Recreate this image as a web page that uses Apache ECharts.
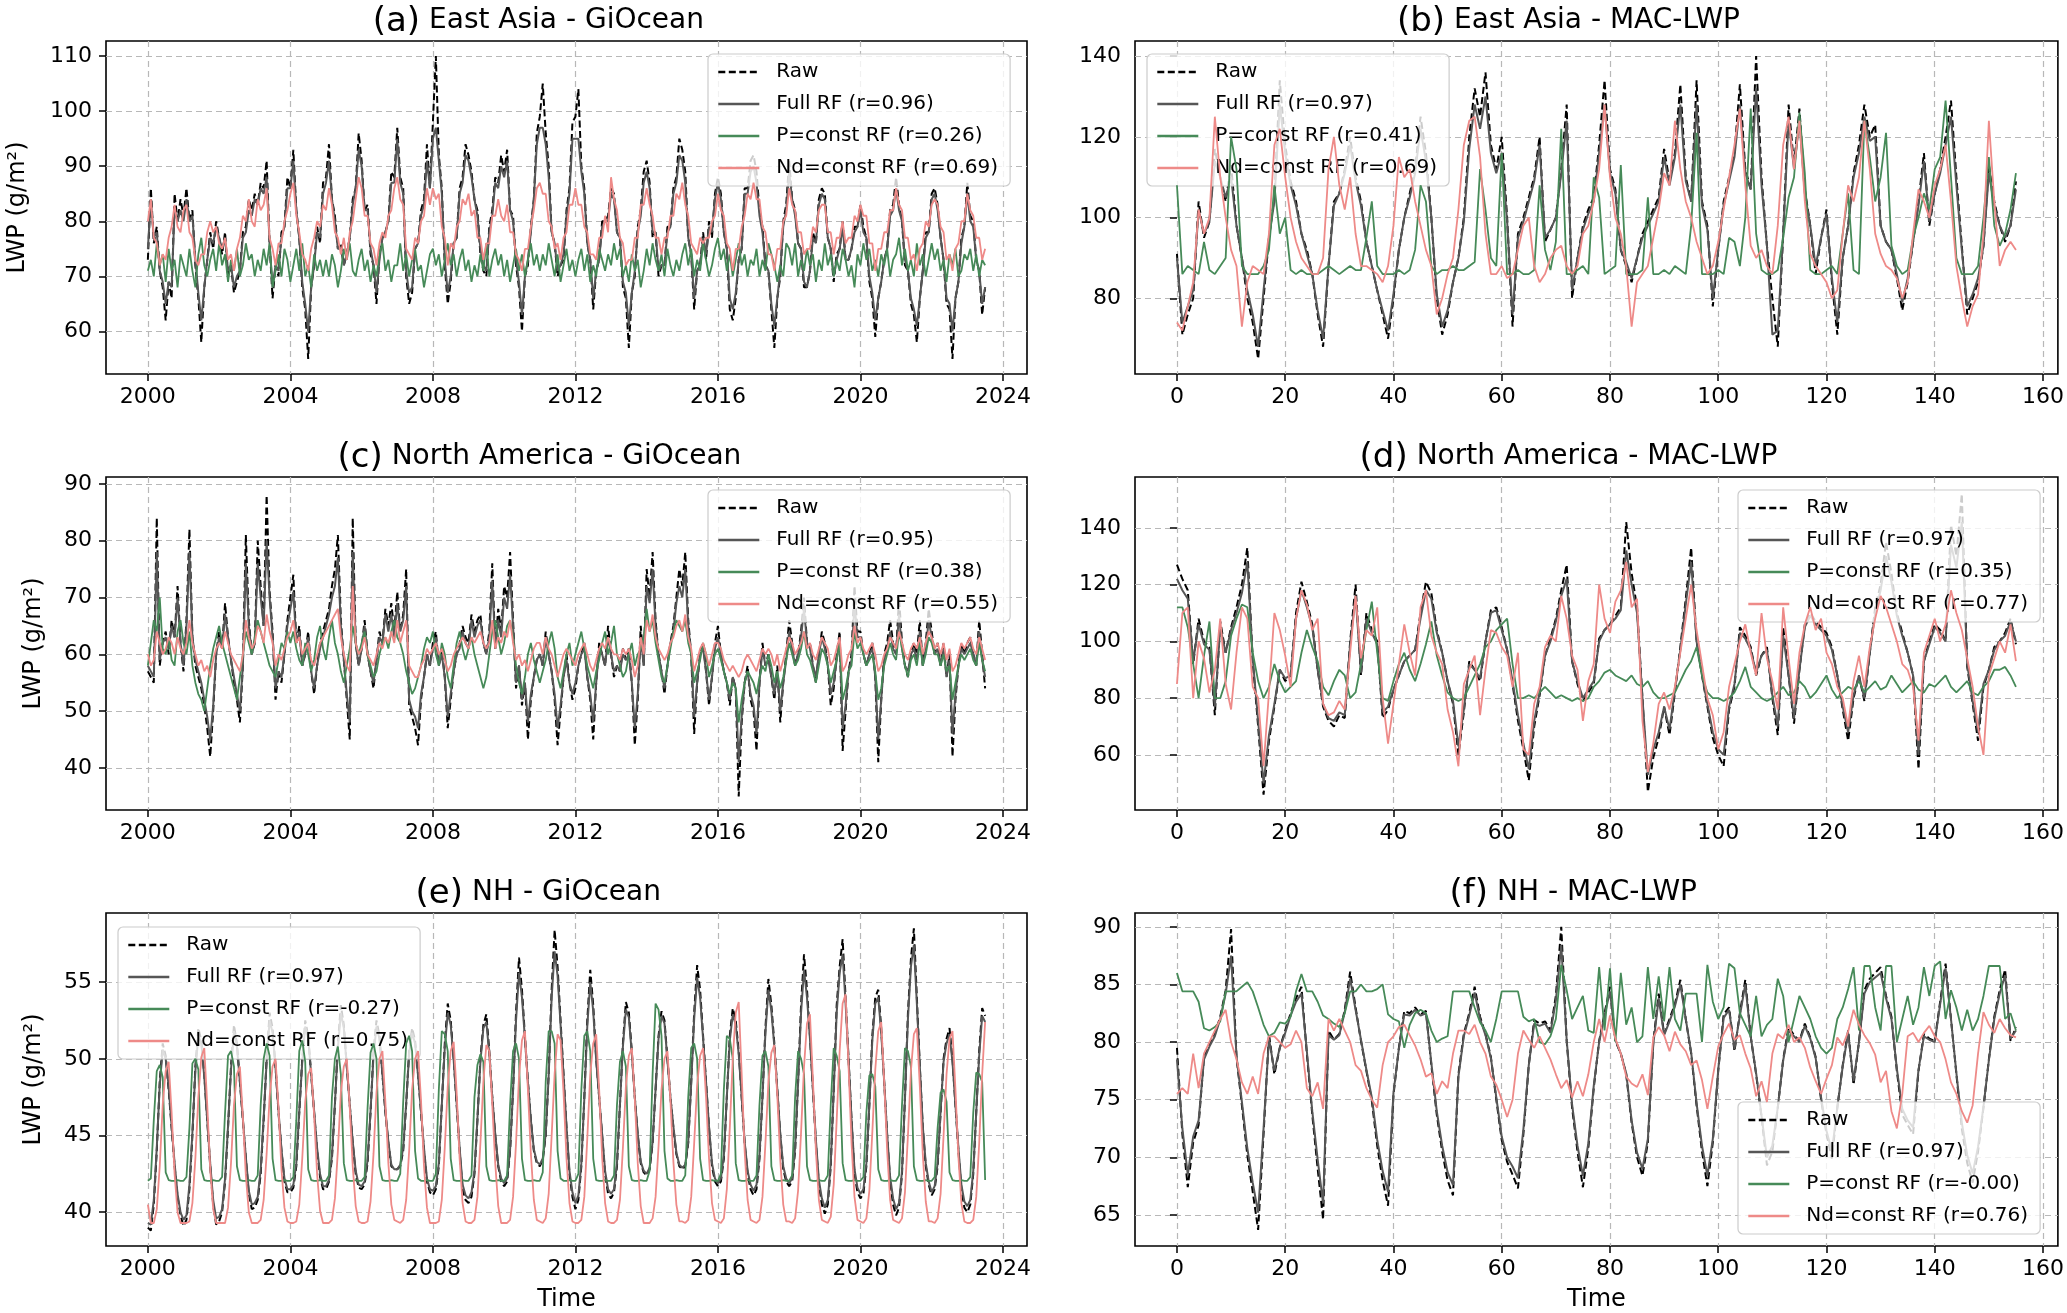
<!DOCTYPE html>
<html>
<head>
<meta charset="utf-8">
<script src="https://cdn.jsdelivr.net/npm/echarts@6/dist/echarts.min.js"></script>
<style>
html, body { margin: 0; padding: 0; background: #fff; }
#main { width: 2067px; height: 1313px; }
</style>
</head>
<body>
<div id="main"></div>
<script>
// tick labels
var yearTicks = [2000, 2004, 2008, 2012, 2016, 2020, 2024]
var indexTicks = [0, 20, 40, 60, 80, 100, 120, 140, 160]
var seriesLabels = ['Raw', 'Full RF', 'P=const RF', 'Nd=const RF']

/* (a) East Asia - GiOcean, monthly 2000-01 .. 2023-07 */
var rawA = [
73,86,76,79,71,68,62,69,66,85,80,84,
81,86,80,82,72,66,58,68,73,78,75,80,
77,74,78,70,72,67,69,71,78,79,84,82,
85,83,87,86,91,76,66,72,70,78,79,88,
86,93,82,77,68,64,55,68,72,79,76,87,
88,94,84,81,75,76,72,74,77,84,86,96,
91,82,83,74,72,65,74,77,78,80,89,88,
97,88,86,70,65,67,75,76,82,84,94,86,
98,110,92,86,72,65,69,76,77,86,88,94,
92,89,84,82,74,71,70,79,82,88,87,92,
89,93,82,81,72,68,60,70,72,79,84,96,
99,105,96,90,78,76,70,72,73,82,86,98,
99,104,90,86,76,73,64,71,73,80,80,81,
86,85,78,77,68,66,57,67,70,79,82,89,
91,87,77,78,70,72,72,79,79,86,88,95,
93,89,77,74,64,71,72,78,73,80,77,85,
88,85,78,75,64,62,66,73,75,86,86,91,
92,89,82,79,72,71,64,57,66,70,80,83,
91,84,82,76,75,68,68,71,78,76,84,86,
85,77,75,69,74,75,80,73,73,75,79,79,
83,79,77,69,66,59,66,69,73,75,82,83,
88,83,80,72,71,65,63,58,66,71,78,78,
85,86,83,77,73,65,64,55,66,69,77,79,
87,81,80,73,71,63,68]
var fullA = [
75,84,77,78,71,69,65,69,68,82,80,82,
80,84,80,81,73,67,62,68,73,77,76,79,
77,75,77,71,72,68,70,71,77,78,82,81,
84,83,86,85,88,76,68,72,71,77,79,86,
86,91,82,77,69,65,60,68,72,78,77,85,
87,91,84,80,75,75,72,74,77,83,86,93,
90,82,82,75,72,67,73,77,78,80,87,87,
95,87,85,71,67,68,75,76,81,83,91,86,
95,97,91,85,73,67,70,76,77,85,87,92,
91,88,84,81,75,72,71,78,81,87,86,90,
88,91,82,80,73,69,63,70,73,78,84,94,
97,97,94,88,78,76,71,72,74,81,85,95,
95,95,89,85,76,73,66,71,73,79,80,80,
85,84,78,77,69,67,61,67,71,78,81,87,
89,86,78,78,71,72,72,78,79,85,87,92,
91,87,77,74,66,71,72,77,74,79,78,84,
87,84,78,75,66,64,67,73,75,85,85,89,
90,87,81,78,72,71,65,61,66,71,79,82,
89,84,81,76,75,69,68,71,77,76,83,85,
84,77,75,70,73,75,79,73,73,75,78,79,
82,78,77,70,67,62,66,69,73,75,81,82,
86,82,80,73,71,66,64,61,66,71,77,78,
84,85,82,77,73,66,65,60,66,69,76,79,
85,80,79,73,71,65,68]
var pconstA = [
71,73,70,76,72,74,69,75,71,73,68,74,
72,70,75,71,68,74,77,72,70,73,75,71,
76,72,74,69,73,71,75,70,72,76,73,74,
70,73,71,75,72,76,68,71,74,70,75,73,
69,72,75,71,76,70,72,68,74,71,73,70,
73,70,74,72,68,71,75,73,76,71,70,73,
75,71,73,69,72,70,74,76,71,73,69,72,
72,76,71,74,70,73,75,71,72,68,71,74,
75,72,74,70,73,76,72,74,70,73,75,71,
73,69,72,70,74,71,76,70,73,75,72,74,
70,73,69,72,75,71,74,70,73,76,72,74,
71,74,72,76,73,70,74,69,72,75,71,73,
70,73,75,71,74,69,72,70,75,73,71,74,
72,76,73,75,70,72,69,74,71,73,68,71,
75,72,76,73,71,74,70,75,72,70,73,71,
74,76,72,75,70,73,71,76,73,70,72,75,
77,73,75,71,74,70,73,76,72,74,70,73,
72,75,70,73,71,76,74,72,69,72,70,76,
75,72,76,70,73,71,75,72,74,69,73,71,
76,72,74,70,73,71,75,73,70,72,68,74,
72,76,73,75,71,73,70,74,72,75,70,73,
74,77,72,75,71,73,70,76,72,74,70,73,
76,73,75,71,73,69,74,72,75,70,71,74,
73,75,71,74,70,73,72]
var ndconstA = [
80,84,77,76,72,74,73,77,79,83,79,78,
82,83,78,77,73,72,74,74,78,80,78,79,
76,75,77,73,74,71,75,77,81,80,84,80,
79,84,82,83,86,77,75,72,76,76,80,82,
85,87,81,78,74,73,71,75,77,80,79,83,
82,86,83,78,77,74,77,73,78,80,84,88,
86,81,81,76,75,72,76,78,77,81,82,86,
88,84,83,75,74,73,77,76,80,81,86,83,
86,84,85,79,77,72,76,75,79,80,84,83,
85,81,82,77,77,73,76,76,81,81,84,81,
80,83,78,78,74,73,71,75,75,79,82,86,
87,85,85,80,79,75,76,73,77,78,83,83,
86,83,83,79,78,74,74,73,77,77,81,78,
88,84,82,77,76,72,73,73,77,77,83,83,
86,83,81,77,77,74,77,77,81,81,85,84,
87,83,81,76,75,74,77,76,77,77,80,81,
85,82,81,76,75,71,75,75,79,81,85,84,
87,84,84,79,78,74,74,71,75,75,80,81,
86,83,82,78,78,74,75,75,79,78,82,83,
83,78,78,74,77,77,80,76,77,77,81,80,
83,81,81,76,76,71,75,75,78,78,82,82,
86,83,82,77,77,73,74,71,75,76,80,79,
83,84,83,79,78,73,74,71,75,76,80,80,
85,82,81,77,77,73,75]

/* (b) East Asia - MAC-LWP, 156 samples */
var rawB = [
91,71,76,80,104,95,99,117,110,104,113,98,
90,80,74,65,80,95,105,134,118,109,104,96,
92,86,76,68,88,104,106,112,120,110,104,94,
88,82,76,70,80,92,100,106,112,125,116,100,
80,71,76,84,90,100,120,132,125,136,118,112,
120,100,73,96,100,105,110,120,94,97,100,112,
128,80,90,98,102,105,118,134,112,107,92,88,
84,90,96,99,102,105,117,109,116,133,110,104,
134,104,98,78,92,104,110,116,133,112,107,140,
110,93,80,68,96,128,113,127,107,98,86,95,
102,84,71,90,98,111,118,128,120,123,98,94,
92,85,77,84,94,104,116,98,106,112,120,129,
110,93,76,80,84,93,113,104,98,94,98,109]
var fullB = [
90,74,78,82,102,96,99,114,110,105,110,98,
90,82,76,68,82,95,104,128,116,108,103,96,
91,86,77,70,88,103,106,111,118,109,103,94,
88,82,77,72,81,92,100,105,111,122,114,100,
81,73,77,84,90,99,117,128,122,130,116,111,
116,99,76,95,99,104,109,118,95,97,100,111,
124,82,90,97,101,104,116,128,111,106,92,89,
85,90,95,98,101,104,115,108,115,128,109,104,
128,103,97,80,92,103,109,115,128,111,107,132,
108,93,71,72,96,124,112,124,106,98,88,95,
101,85,74,90,98,110,116,125,119,120,98,94,
92,86,79,85,94,103,114,99,106,111,118,125,
108,92,78,81,85,93,111,103,98,95,98,107]
var pconstB = [
108,86,88,87,86,94,87,86,88,90,120,112,
88,86,86,86,88,92,108,96,100,87,86,87,
86,86,86,87,88,87,86,87,88,87,87,95,
104,88,86,86,86,87,86,87,92,108,104,88,
86,87,87,88,87,87,88,89,112,102,90,88,
116,86,86,87,86,86,87,108,92,87,94,122,
86,86,87,88,86,110,105,86,87,88,113,86,
86,86,87,105,86,86,87,86,88,87,86,98,
121,86,86,86,87,86,95,94,88,100,127,96,
87,86,86,87,95,105,110,126,111,87,86,86,
87,88,86,96,106,87,86,124,115,104,110,121,
93,88,86,87,95,100,106,102,112,115,129,110,
90,86,86,86,88,100,115,98,93,96,102,111]
var ndconstB = [
74,72,78,84,102,96,100,125,110,100,92,88,
73,84,88,87,86,96,118,122,110,100,94,90,
88,86,86,90,112,120,108,102,110,96,88,88,
87,86,84,88,98,115,110,112,104,98,92,88,
76,80,86,90,102,118,124,125,115,96,86,86,
88,85,86,92,98,100,88,84,86,90,92,93,
88,86,88,96,98,104,112,128,110,100,96,88,
73,84,86,88,95,102,111,108,124,112,104,100,
94,90,86,88,94,102,110,118,127,108,93,90,
92,88,86,98,118,125,112,124,104,91,88,86,
84,80,82,96,108,104,110,124,112,96,91,88,
87,85,80,84,96,107,104,100,108,112,118,104,
88,80,73,78,81,96,124,104,88,92,94,92]

/* (c) North America - GiOcean */
var rawC = [
57,56,55,84,58,62,64,60,66,63,72,62,
57,66,82,63,58,56,54,51,47,42,50,60,
64,61,69,63,59,55,52,48,58,81,66,60,
62,80,72,65,88,71,64,52,57,55,60,66,
70,74,62,65,58,60,64,57,53,58,62,64,
66,68,72,75,81,66,59,52,45,84,62,58,
61,66,60,57,54,59,64,62,68,65,69,64,
71,64,67,75,51,49,47,44,52,56,60,58,
62,64,58,61,56,47,52,57,60,62,65,63,
62,67,64,66,67,62,60,64,76,61,68,64,
72,70,78,66,54,58,51,55,45,52,56,59,
60,58,64,60,57,52,44,50,56,60,55,52,
54,58,60,62,56,52,45,55,62,60,58,65,
60,56,58,57,61,59,61,55,44,52,65,58,
75,70,78,66,60,57,53,58,62,65,70,75,
72,78,66,60,46,55,60,62,57,51,56,62,
65,60,57,55,51,56,54,35,48,55,58,52,
50,43,55,62,58,60,56,52,58,48,55,60,
66,62,58,60,64,70,62,62,58,55,60,64,
62,58,51,54,60,64,43,50,57,60,72,64,
64,60,58,60,62,56,41,52,60,62,66,62,
60,70,62,58,56,60,62,60,66,58,62,68,
64,60,62,58,62,56,60,42,52,58,62,60,
62,63,60,58,66,60,54]
var fullC = [
58,57,56,78,59,62,63,61,65,63,70,62,
58,65,78,63,59,57,55,52,49,45,51,60,
63,61,67,63,59,56,53,50,58,76,65,60,
62,76,70,65,80,70,63,54,57,56,60,65,
68,71,62,64,58,60,63,57,54,58,61,63,
65,67,70,72,77,65,59,53,48,78,62,58,
61,65,60,57,55,59,63,62,67,64,67,63,
69,64,66,72,52,50,49,47,53,56,60,58,
61,63,58,60,56,49,53,57,60,61,64,62,
61,66,63,65,66,62,60,63,73,61,66,63,
70,68,74,65,55,58,52,55,48,53,56,59,
60,58,63,60,57,53,47,51,56,59,55,53,
55,58,60,61,56,53,48,55,61,60,58,63,
60,57,58,57,60,59,60,55,47,53,63,58,
72,69,75,65,60,57,54,58,62,64,69,72,
70,75,65,60,49,55,60,61,57,52,56,61,
63,60,57,55,52,56,54,41,49,55,57,53,
51,46,55,61,58,59,56,53,57,50,55,59,
64,61,58,60,63,68,62,61,58,56,60,63,
61,58,53,55,59,63,47,51,57,59,69,63,
63,60,58,60,61,56,45,52,59,61,64,61,
60,67,61,58,57,60,61,59,64,58,61,66,
63,60,61,58,61,56,59,46,53,58,61,60,
61,62,60,58,64,59,56]
var pconstC = [
58,62,66,64,70,61,60,63,59,58,64,66,
62,60,64,58,55,53,52,50,54,58,61,63,
65,62,60,58,56,54,52,56,60,64,62,60,
63,66,64,62,60,58,57,56,59,62,61,64,
62,64,61,59,58,62,60,57,59,63,65,61,
59,63,66,62,60,57,55,58,61,65,62,60,
62,64,60,58,56,57,60,62,63,61,64,66,
63,62,60,57,55,53,54,56,58,61,63,62,
64,60,58,62,60,56,54,58,62,64,61,59,
61,63,60,58,56,54,56,60,64,66,63,60,
62,65,66,63,58,55,53,56,60,62,59,57,
55,57,59,62,64,61,56,54,57,60,62,58,
60,62,64,61,58,56,54,57,59,62,64,60,
62,65,60,58,56,57,60,62,58,60,61,63,
68,64,66,62,59,56,55,58,61,64,66,65,
64,66,62,60,55,57,59,62,60,56,58,60,
61,59,57,55,53,55,54,48,52,55,57,56,
55,53,56,58,57,60,58,55,57,54,56,59,
62,60,58,59,61,64,60,59,57,55,58,61,
60,58,55,57,59,62,52,54,57,58,64,61,
62,60,58,59,60,57,52,54,58,60,62,60,
59,64,61,58,56,59,60,58,62,58,60,63,
62,60,60,58,60,57,58,52,55,58,60,59,
60,61,59,58,62,59,57]
var ndconstC = [
60,58,59,64,62,60,61,63,62,60,63,61,
60,62,66,62,60,58,59,57,58,56,59,61,
62,61,64,62,60,59,58,57,60,66,63,61,
62,65,64,62,67,64,62,58,60,59,61,63,
64,66,62,63,60,61,62,59,58,60,62,63,
64,65,66,67,68,63,60,58,57,72,62,60,
61,63,60,59,58,60,62,61,63,62,64,62,
66,62,64,66,58,57,56,56,58,59,61,60,
61,62,60,61,59,57,58,60,61,62,63,62,
61,63,62,63,64,62,61,62,66,61,63,62,
64,63,66,62,59,60,58,59,57,59,61,62,
62,60,63,61,60,58,56,58,60,61,60,59,
58,60,61,62,60,58,57,59,61,62,61,63,
61,60,60,59,61,60,61,59,56,58,63,60,
66,64,67,63,61,60,59,60,62,63,65,66,
64,67,63,61,57,59,61,62,60,58,60,62,
62,61,59,58,57,58,57,56,57,59,60,59,
58,57,59,61,60,61,60,58,60,57,59,61,
63,62,60,61,62,64,61,62,60,59,61,63,
62,61,58,59,61,63,57,58,60,61,65,62,
63,61,60,61,62,60,57,58,60,61,63,62,
61,64,62,60,59,61,62,61,63,60,62,64,
63,61,62,60,62,59,61,57,58,60,62,61,
62,63,61,60,63,61,59]

/* (d) North America - MAC-LWP */
var rawD = [
127,122,118,92,108,100,98,74,107,96,105,112,
120,133,93,70,46,65,77,90,86,88,110,121,
114,106,90,77,72,70,74,73,100,120,88,110,
104,100,73,76,83,88,93,95,97,110,121,117,
104,96,86,78,60,75,93,90,86,100,111,112,
105,97,85,72,62,51,70,81,95,101,108,118,
127,93,85,79,82,85,101,104,106,109,112,142,
124,112,80,47,59,66,77,67,82,98,115,133,
100,88,77,66,60,56,76,84,105,102,98,88,
95,98,80,67,105,88,71,90,106,110,107,105,
103,98,88,76,65,80,88,79,96,112,120,135,
124,110,103,96,88,55,93,100,106,104,100,141,
130,152,91,78,65,84,90,98,100,103,108,99]
var fullD = [
122,118,115,93,106,99,97,77,105,96,104,110,
117,128,94,72,50,67,78,90,87,88,108,118,
112,105,90,78,73,72,75,74,99,116,89,108,
103,99,75,77,83,88,93,95,97,108,118,115,
103,96,86,79,63,76,92,90,87,100,110,111,
104,97,86,74,64,55,72,82,95,100,107,116,
122,93,86,80,83,86,100,104,106,108,111,132,
120,110,80,53,62,68,77,69,83,97,113,128,
100,88,78,68,62,60,77,85,103,101,97,89,
95,97,81,70,102,88,73,90,105,109,106,104,
102,97,88,77,68,81,88,80,96,110,118,130,
121,109,102,96,88,60,93,99,105,103,100,134,
126,142,92,79,68,85,90,97,100,102,107,100]
var pconstD = [
112,112,105,92,80,95,107,80,80,86,102,108,
113,112,96,86,80,84,92,86,82,84,86,96,
104,98,93,84,81,86,90,88,80,82,92,104,
114,96,80,79,86,92,96,90,86,92,99,107,
95,88,82,80,79,80,84,88,92,98,100,104,
106,108,92,80,80,81,80,82,84,82,80,81,
80,79,80,79,80,84,86,89,90,88,87,86,
88,85,84,86,82,80,80,81,82,86,90,93,
98,88,82,80,80,79,80,82,86,91,84,82,
80,79,80,82,84,81,82,86,84,80,82,85,
88,83,80,82,84,83,86,82,84,86,83,84,
88,85,82,84,86,83,82,85,84,86,88,84,
82,84,86,82,81,84,86,90,90,91,88,84]
var ndconstD = [
85,110,112,80,100,94,82,90,108,85,76,96,
112,108,84,80,56,82,110,104,95,84,108,118,
113,104,108,78,74,75,79,76,96,116,94,104,
102,112,80,64,78,92,106,96,88,112,118,102,
96,92,76,68,56,85,90,95,74,90,104,103,
98,95,84,96,62,60,78,84,98,102,100,116,
108,95,90,72,86,92,120,108,103,114,118,128,
112,115,72,54,64,78,82,76,84,96,108,120,
104,92,80,74,62,68,84,92,100,106,96,88,
110,94,86,76,112,94,78,96,106,112,104,108,
96,92,84,80,70,86,95,84,98,108,116,112,
106,100,92,90,84,65,96,102,108,100,106,118,
110,104,94,84,70,60,88,94,100,96,106,93]

/* (e) NH - GiOcean */
var rawE = [
39.0,38.8,40.5,44.0,48.5,51.0,50.2,48.0,45.5,43.0,41.0,39.8,
39.1,39.5,41.5,45.0,49.5,52.0,51.2,49.0,46.0,43.0,40.5,39.2,
39.4,40.0,42.0,45.5,49.5,52.2,51.0,48.5,46.0,43.5,41.2,40.2,
40.3,40.8,42.5,46.0,50.0,53.0,52.0,49.5,46.5,44.0,42.0,41.3,
41.3,41.6,43.0,46.5,50.0,52.5,51.5,49.0,46.5,44.0,42.3,41.5,
41.5,42.0,43.5,47.0,51.0,53.5,52.2,49.5,47.0,44.5,42.5,41.6,
41.5,41.8,43.2,46.5,50.5,52.5,51.5,49.0,46.5,44.5,43.0,42.8,
42.8,43.0,44.0,47.0,50.5,52.0,51.2,49.0,46.5,44.0,42.0,41.3,
41.1,41.5,43.0,47.0,51.0,53.6,52.5,50.0,47.0,44.0,41.5,40.8,
40.6,41.0,42.5,46.0,50.0,52.2,52.9,50.5,47.5,45.0,43.0,42.0,
41.7,42.0,44.0,48.0,53.0,56.6,54.5,51.5,48.5,46.0,44.0,43.2,
43.0,43.4,45.0,49.0,54.5,58.4,56.0,52.5,49.0,45.5,42.5,41.0,
40.2,40.8,43.0,47.5,52.5,55.8,53.5,50.0,47.5,45.0,42.5,41.2,
40.9,41.3,43.0,47.0,51.0,53.7,53.0,50.5,47.5,45.0,43.2,42.6,
42.4,42.8,44.5,48.0,51.5,53.1,52.5,50.0,47.5,45.5,43.8,43.0,
42.8,43.0,44.5,48.5,53.0,56.1,54.5,51.5,48.5,45.5,43.0,42.0,
41.7,42.0,43.5,47.5,51.5,53.3,52.5,50.5,47.5,44.5,42.5,41.5,
41.1,41.5,43.5,47.5,52.0,55.2,53.5,51.0,48.0,45.0,42.8,42.0,
41.7,42.0,44.0,48.5,53.5,56.8,54.5,51.5,48.0,44.5,41.8,40.5,
39.9,40.5,43.0,48.0,53.5,56.0,57.8,54.0,50.0,46.0,42.5,41.3,
40.9,41.2,43.0,47.0,51.5,54.0,54.5,52.0,48.5,45.0,42.0,40.5,
39.8,40.3,42.5,47.5,53.0,56.5,58.5,54.0,49.5,45.5,43.0,41.8,
41.1,41.5,43.0,46.5,50.0,51.3,52.0,50.0,47.0,44.0,41.5,40.3,
40.0,40.5,42.5,46.5,50.5,53.3,52.8]
var fullE = [
39.3,39.2,40.8,44.2,48.3,50.6,50.0,48.2,45.6,43.2,41.2,40.0,
39.5,39.8,41.8,45.2,49.2,51.5,51.0,48.8,46.0,43.2,40.8,39.6,
39.7,40.2,42.2,45.6,49.3,51.8,50.8,48.5,46.1,43.6,41.4,40.5,
40.6,41.0,42.8,46.2,49.8,52.5,51.7,49.4,46.6,44.1,42.2,41.5,
41.5,41.8,43.2,46.6,49.8,52.1,51.3,49.0,46.6,44.2,42.5,41.7,
41.7,42.1,43.7,47.1,50.7,53.0,52.0,49.5,47.0,44.6,42.7,41.8,
41.7,42.0,43.4,46.6,50.2,52.1,51.3,49.0,46.6,44.6,43.1,42.8,
42.8,43.1,44.2,47.1,50.3,51.7,51.0,48.9,46.6,44.2,42.2,41.5,
41.4,41.7,43.2,47.0,50.7,53.0,52.2,49.9,47.1,44.2,41.8,41.1,
40.9,41.3,42.7,46.1,49.8,52.0,52.4,50.3,47.5,45.1,43.1,42.2,
41.9,42.2,44.1,47.9,52.5,55.6,54.0,51.3,48.5,46.0,44.1,43.3,
43.1,43.5,45.1,48.9,54.0,57.0,55.4,52.2,48.9,45.6,42.7,41.3,
40.6,41.1,43.2,47.4,52.1,55.0,53.1,49.9,47.5,45.1,42.7,41.5,
41.2,41.5,43.2,47.0,50.8,53.2,52.7,50.3,47.5,45.1,43.3,42.7,
42.5,42.9,44.6,48.0,51.3,52.8,52.3,49.9,47.5,45.6,43.9,43.1,
42.9,43.1,44.6,48.4,52.6,55.3,54.0,51.3,48.5,45.6,43.2,42.2,
41.9,42.2,43.7,47.5,51.2,52.9,52.2,50.3,47.5,44.6,42.7,41.8,
41.4,41.8,43.7,47.5,51.7,54.5,53.1,50.8,48.0,45.1,43.0,42.2,
41.9,42.2,44.2,48.4,53.0,55.8,54.0,51.3,48.0,44.7,42.1,40.9,
40.3,40.8,43.2,47.9,53.0,55.6,56.8,53.6,49.9,46.1,42.8,41.6,
41.2,41.5,43.2,47.0,51.2,53.6,54.0,51.7,48.5,45.1,42.3,40.9,
40.2,40.6,42.7,47.4,52.6,56.0,57.4,53.6,49.5,45.6,43.2,42.0,
41.3,41.7,43.2,46.6,49.8,51.0,51.6,49.8,47.0,44.2,41.8,40.7,
40.4,40.8,42.7,46.5,50.2,52.8,52.4]
var pconstE = [
42.05,42.2,46.0,49.2,49.6,48.8,42.6,42.1,42.05,42.05,42.1,42.05,
42.05,42.3,45.5,49.7,50.0,49.3,42.8,42.1,42.05,42.05,42.1,42.05,
42.05,42.3,46.5,50.2,50.5,49.5,43.0,42.1,42.05,42.05,42.1,42.05,
42.05,42.4,47.0,50.0,51.0,50.2,43.5,42.1,42.05,42.05,42.1,42.05,
42.05,42.3,46.0,50.5,51.2,49.8,42.8,42.1,42.05,42.05,42.1,42.05,
42.05,42.4,47.5,50.0,50.8,49.0,43.2,42.1,42.05,42.05,42.1,42.05,
42.05,42.3,46.8,50.4,51.0,50.0,43.0,42.1,42.05,42.05,42.1,42.05,
42.05,42.5,47.2,51.0,51.5,50.5,44.0,42.2,42.05,42.05,42.1,42.05,
42.05,42.5,48.0,51.8,51.6,50.5,43.5,42.1,42.05,42.05,42.1,42.05,
42.05,42.4,47.5,49.6,50.3,49.8,43.0,42.1,42.05,42.05,42.1,42.05,
42.05,42.4,47.0,50.5,51.0,50.0,43.5,42.1,42.05,42.05,42.1,42.05,
42.05,42.6,48.5,51.8,51.8,51.0,44.0,42.2,42.05,42.05,42.1,42.05,
42.05,42.5,48.0,51.5,51.8,50.5,43.5,42.1,42.05,42.05,42.1,42.05,
42.05,42.4,47.0,49.8,50.5,49.5,43.0,42.1,42.05,42.05,42.1,42.05,
42.05,42.7,49.0,53.6,53.2,51.5,44.0,42.2,42.05,42.05,42.1,42.05,
42.05,42.4,47.5,50.7,51.0,50.0,43.5,42.1,42.05,42.05,42.1,42.05,
42.05,42.5,48.0,51.5,51.3,50.0,43.2,42.1,42.05,42.05,42.1,42.05,
42.05,42.4,47.0,50.2,50.5,49.5,43.0,42.1,42.05,42.05,42.1,42.05,
42.05,42.4,47.5,50.5,50.0,49.0,43.0,42.1,42.05,42.05,42.1,42.05,
42.05,42.4,47.0,50.7,50.2,49.2,43.2,42.1,42.05,42.05,42.1,42.05,
42.05,42.3,46.5,48.9,49.0,48.2,42.8,42.1,42.05,42.05,42.1,42.05,
42.05,42.4,47.0,50.7,50.5,49.5,43.0,42.1,42.05,42.05,42.1,42.05,
42.05,42.3,45.5,47.8,48.0,47.2,42.6,42.1,42.05,42.05,42.1,42.05,
42.05,42.3,46.5,49.1,49.0,48.5,42.1]
var ndconstE = [
40.5,39.3,39.3,40.2,43.0,47.0,49.2,49.8,46.5,42.5,40.0,39.3,
39.3,39.3,39.4,40.6,43.5,47.5,50.1,50.7,47.0,42.8,40.2,39.3,
39.3,39.3,39.3,40.3,43.2,47.0,49.0,49.5,46.2,42.4,40.0,39.3,
39.3,39.3,39.5,40.8,43.8,47.5,49.5,50.0,46.8,42.8,40.3,39.4,
39.3,39.3,39.4,40.5,43.5,47.2,49.0,49.4,46.3,42.5,40.1,39.3,
39.3,39.3,39.5,40.9,44.0,47.8,49.5,50.0,46.8,43.0,40.4,39.4,
39.3,39.3,39.4,40.7,43.8,47.8,50.0,50.5,47.2,43.2,40.5,39.5,
39.4,39.3,39.5,40.8,44.0,48.0,50.0,50.5,47.3,43.0,40.3,39.3,
39.3,39.3,39.4,40.8,44.2,48.2,50.5,51.1,47.8,43.5,40.6,39.4,
39.3,39.3,39.5,41.0,44.5,48.5,50.9,50.5,47.0,43.2,40.4,39.3,
39.3,39.3,39.5,41.0,44.5,48.8,51.2,51.8,48.0,43.8,40.8,39.5,
39.4,39.3,39.6,41.2,45.0,49.0,51.6,51.2,47.8,43.5,40.6,39.4,
39.3,39.3,39.5,41.0,44.8,49.0,51.0,51.6,48.0,43.6,40.6,39.4,
39.3,39.3,39.5,40.8,44.2,48.2,50.2,50.7,47.4,43.2,40.4,39.3,
39.3,39.3,39.6,41.0,44.3,48.0,50.0,50.5,47.3,43.3,40.5,39.4,
39.4,39.3,39.5,41.0,44.5,48.3,50.2,50.7,47.5,43.5,40.6,39.5,
39.4,39.3,39.6,41.5,45.5,50.0,53.0,53.7,49.0,44.0,40.8,39.5,
39.4,39.3,39.5,41.0,44.5,48.5,50.4,50.9,47.6,43.4,40.5,39.4,
39.4,39.3,39.6,41.4,45.2,49.5,52.3,52.9,48.6,44.0,40.8,39.5,
39.4,39.3,39.7,41.8,46.0,50.5,53.6,54.2,49.5,44.5,41.0,39.5,
39.4,39.3,39.6,41.4,45.2,49.3,51.8,52.4,48.5,44.0,40.8,39.5,
39.4,39.3,39.6,41.3,45.0,49.2,51.6,52.0,48.2,43.8,40.7,39.4,
39.4,39.3,39.6,41.2,45.0,49.0,51.3,51.8,48.0,43.6,40.6,39.4,
39.3,39.3,39.5,41.0,44.5,49.0,52.4]

/* (f) NH - MAC-LWP */
var rawF = [
79.5,72,67.4,71.3,72.8,78.7,79.8,80.7,82.2,84.5,89.8,78.7,
74.5,70.2,67,63.7,72,80.7,77.2,79.5,81,82.5,83.8,84.8,
79,73.7,69,64.6,81,80.2,80.7,82.8,86.1,83,80.1,77.5,
74.9,71,68,65.8,75.4,79.5,82.7,82.5,83,82.4,82.7,78,
73.7,70.5,68,66.7,77.2,80.7,82.5,84.8,82.2,80.7,78.7,75,
71.5,69.6,68.5,67.3,72,78,81.9,81.6,81.8,81,84,90,
80.1,74.3,70.5,67.4,70.8,76,80.1,82.5,84.8,80.1,79,77.2,
73,70,68.4,71.3,80,84.2,80.7,82,83.3,85.4,82,79,
74.5,70.5,67.5,71.3,77.5,82.4,83,79.2,82.5,85.4,80.5,77.2,
73.5,69.3,70.5,74.3,78.5,81.3,80.6,80.1,81.6,80.4,78.7,75,
72,69.9,74.3,78,81,76.3,80,84.5,85.5,86,86.5,84,
82.2,77.5,73.7,72.8,72,77.5,80.7,80.3,80.1,83.5,86.8,82,
77.2,72.5,69.5,67.8,70.5,74.3,78.5,82.2,84.5,86.3,80.1,81.3]
var fullF = [
78.5,72.5,68.5,71.8,73.2,78.5,79.6,80.5,82,84.2,87.5,78.8,
74.8,70.8,67.8,65.2,72.5,80.3,77.5,79.5,80.8,82.3,83.5,84.2,
79.2,74,69.8,66,80.6,80.2,80.6,82.6,85.5,82.8,80.2,77.6,
75.2,71.5,68.8,67,75.6,79.4,82.4,82.3,82.8,82.3,82.5,78.2,
74,71,68.7,67.6,77,80.5,82.3,84.3,82,80.6,78.6,75.2,
71.8,70,69.2,68.2,72.4,78,81.6,81.4,81.6,80.8,83.6,88.4,
80.2,74.6,71,68.4,71.2,76.2,80,82.3,84.4,80.2,79,77.3,
73.2,70.4,69,71.6,79.8,83.8,80.6,81.8,83.1,85,82,79.1,
74.7,71,68.4,71.6,77.6,82.1,82.8,79.4,82.3,85,80.5,77.3,
73.6,70,71,74.3,78.4,81,80.5,80,81.4,80.3,78.6,75.2,
72.3,70.5,74.3,77.9,80.8,76.6,80,84.2,85.2,85.6,86,83.8,
82,77.7,74.2,73.2,72.6,77.6,80.5,80.2,80,83.3,86.4,82,
77.3,73,70.2,68.6,70.9,74.4,78.4,82,84.2,85.8,80.3,81]
var pconstF = [
86,84.4,84.4,84.4,83.5,81.2,81,81.3,81.8,84.4,84.4,84.4,
84.8,85.2,84.4,83,81.5,80.5,80.8,81.7,81.6,82.2,84.4,85.9,
84.4,84.4,83.5,82.3,82,81.6,81.3,82.5,84.4,84.4,85,84.4,
84.4,84.6,85,82.4,82,81.8,79.5,81.5,82.5,82.8,82.5,81,
80,80.3,80.5,84.4,84.4,84.4,84.4,83,81.7,81,80,82,
84.4,84.4,84.4,84.4,82.2,81.8,82,80,79.8,80.5,82,86.7,
84.5,82,83,84,81,80.8,86.5,81,86.4,80,86,81.5,
83,80,80.5,86.5,82,85.7,81.8,86.5,82,81,84.2,84.2,
84.2,80,86.7,83.5,82,83,86.8,86.4,82.5,81.5,80.5,84,
80.5,81.5,82,85.5,84,80,82,84,83,82,80.5,79.5,
79,79.5,82,83,84.6,86.5,81,86.6,86.6,83,81,86.6,
86.6,80,82,84,81.5,83,86.5,84,86.6,87,82,84.5,
83,81,82.8,81,82,84,86.6,86.6,86.6,82,82.5,81]
var ndconstF = [
75.5,76,75.5,79,76,79,80,81,82,82.8,80,78.5,
76.5,75.5,77,75.5,79,80.5,80.5,80,79.5,79.8,81,80,
76,75.3,76.5,74.2,82,81,82,81,80,78,77.5,76,
75,74.3,78,80,80.5,81.3,81.5,80.6,79.7,78.5,77,77.3,
75.5,76.6,76,79,81,81,80.7,81.5,80,79,77,76.3,
75,73.5,75,79,81,80.2,79.5,80.5,79.5,78.5,77.2,76,
76.7,75.2,76.6,75.3,77.2,80,82,80,82.3,80.3,79,77,
76.4,76.1,77.2,75.4,80.4,81.3,80.6,79.2,80.9,79.8,79.2,78,
78.4,76.7,74.2,77,79.6,80.7,81.6,80.2,80.6,79,77.7,75.3,
76.6,74.8,79,80.7,80.3,81.5,80,80.4,79.5,77.8,76.6,75.5,
76.8,78,80.4,79.7,80.9,82.8,81.5,80.6,79.9,78.9,76.5,77.5,
74,72.5,75.5,80.5,80.8,80,80.8,81.4,80.5,80,78.5,76.5,
75.5,74,73,74.5,79,82.6,81.5,80.8,82,81.2,80.6,80.4]

var fam = "'DejaVu Sans', 'Liberation Sans', sans-serif"
var colLeft = [106, 1135]
var colWidth = [921, 924]
var rowTop = [41, 477, 913]
var rowHeight = 333

var panels = [
    { tag: '(a)', title: 'East Asia - GiOcean', kind: 'year', raw: rawA, full: fullA, pc: pconstA, nd: ndconstA,
      r: ['0.96', '0.26', '0.69'], yMin: 52.25, yMax: 112.75, yTicks: [60, 70, 80, 90, 100, 110], lg: [708, 54] },
    { tag: '(b)', title: 'East Asia - MAC-LWP', kind: 'index', raw: rawB, full: fullB, pc: pconstB, nd: ndconstB,
      r: ['0.97', '0.41', '0.69'], yMin: 61.25, yMax: 143.75, yTicks: [80, 100, 120, 140], lg: [1147, 54] },
    { tag: '(c)', title: 'North America - GiOcean', kind: 'year', raw: rawC, full: fullC, pc: pconstC, nd: ndconstC,
      r: ['0.95', '0.38', '0.55'], yMin: 32.6, yMax: 91.2, yTicks: [40, 50, 60, 70, 80, 90], lg: [708, 490] },
    { tag: '(d)', title: 'North America - MAC-LWP', kind: 'index', raw: rawD, full: fullD, pc: pconstD, nd: ndconstD,
      r: ['0.97', '0.35', '0.77'], yMin: 40.6, yMax: 157.9, yTicks: [60, 80, 100, 120, 140], lg: [1738, 490] },
    { tag: '(e)', title: 'NH - GiOcean', kind: 'year', raw: rawE, full: fullE, pc: pconstE, nd: ndconstE,
      r: ['0.97', '-0.27', '0.75'], yMin: 37.8, yMax: 59.5, yTicks: [40, 45, 50, 55], lg: [118, 927] },
    { tag: '(f)', title: 'NH - MAC-LWP', kind: 'index', raw: rawF, full: fullF, pc: pconstF, nd: ndconstF,
      r: ['0.97', '-0.00', '0.76'], yMin: 62.3, yMax: 91.2, yTicks: [65, 70, 75, 80, 85, 90], lg: [1738, 1102] }
]

var lineStyles = [
    { color: '#000000', width: 2, type: [7, 3.5] },
    { color: '#565656', width: 2, type: 'solid' },
    { color: '#468a58', width: 1.8, type: 'solid' },
    { color: '#ee8a88', width: 1.8, type: 'solid' }
]

function toPoints (vals, kind) {
    var pts = []
    for (var i = 0; i < vals.length; i++) {
        // monthly series start in Jan 2000
        pts.push([kind === 'year' ? 2000 + i / 12 : i, vals[i]])
    }
    return pts
}

var measure = document.createElement('canvas').getContext('2d')

var grids = [], xAxes = [], yAxes = [], series = [], legends = [], graphics = []
var gridLine = { show: true, lineStyle: { type: [6, 4], color: '#b8b8b8', width: 1.2 } }
var tickLine = { color: '#000', width: 1.5 }

panels.forEach(function (p, k) {
    var col = k % 2, row = Math.floor(k / 2)
    grids.push({ left: colLeft[col], top: rowTop[row], width: colWidth[col], height: rowHeight,
        show: true, borderColor: '#000', borderWidth: 1.6, backgroundColor: 'transparent' })

    var xTicks = p.kind === 'year' ? yearTicks : indexTicks
    xAxes.push({
        type: 'value', gridIndex: k,
        min: p.kind === 'year' ? 1998.825 : -7.75,
        max: p.kind === 'year' ? 2024.675 : 162.75,
        axisLine: { show: false },
        axisTick: { show: true, length: 7, lineStyle: tickLine, customValues: xTicks },
        axisLabel: { customValues: xTicks, fontSize: 22, fontFamily: fam, color: '#000', margin: 12,
            formatter: function (v) { return String(v) } },
        splitLine: gridLine,
        name: row === 2 ? 'Time' : '', nameLocation: 'middle', nameGap: 42,
        nameTextStyle: { fontSize: 24, fontFamily: fam, color: '#000' }
    })
    yAxes.push({
        type: 'value', gridIndex: k, min: p.yMin, max: p.yMax,
        axisLine: { show: false },
        axisTick: { show: true, length: 7, lineStyle: tickLine, customValues: p.yTicks },
        axisLabel: { customValues: p.yTicks, fontSize: 22, fontFamily: fam, color: '#000', margin: 14,
            formatter: function (v) { return String(v) } },
        splitLine: gridLine,
        name: col === 0 ? 'LWP (g/m²)' : '', nameLocation: 'middle',
        nameGap: row === 0 ? 76 : 60,
        nameTextStyle: { fontSize: 24, fontFamily: fam, color: '#000' }
    })

    var names = [seriesLabels[0]]
    for (var j = 1; j < 4; j++) names.push(seriesLabels[j] + ' (r=' + p.r[j - 1] + ')')
    var sets = [p.raw, p.full, p.pc, p.nd]
    sets.forEach(function (vals, j) {
        series.push({
            type: 'line', name: names[j], xAxisIndex: k, yAxisIndex: k,
            data: toPoints(vals, p.kind), symbol: 'circle', symbolSize: 0, showSymbol: false,
            lineStyle: lineStyles[j], itemStyle: { color: lineStyles[j].color },
            z: 2 + j, silent: true, animation: false
        })
    })

    legends.push({
        data: names, orient: 'vertical', left: p.lg[0], top: p.lg[1],
        itemWidth: 41, itemHeight: 20, itemGap: 12, selectedMode: false,
        padding: [8, 12, 8, 9],
        itemStyle: { opacity: 0, borderWidth: 0 },
        lineStyle: { width: 2.6 },
        backgroundColor: 'rgba(255,255,255,0.8)', borderColor: '#cccccc', borderWidth: 1.2, borderRadius: 5,
        textStyle: { fontSize: 20, fontFamily: fam, color: '#000', padding: [0, 0, 0, 12], lineHeight: 20 }
    })

    // title: main text centred over the axes, tag to its left
    var cx = colLeft[col] + colWidth[col] / 2
    var ty = rowTop[row] - 20
    measure.font = '28px DejaVu Sans'
    var tw = measure.measureText(p.title).width
    graphics.push({ type: 'text', x: cx, y: ty,
        style: { text: p.title, fontSize: 28, fontFamily: fam, fill: '#000', align: 'center', verticalAlign: 'middle' } })
    graphics.push({ type: 'text', x: cx - tw / 2 - 9, y: ty + 1,
        style: { text: p.tag, fontSize: 34, fontFamily: fam, fill: '#000', align: 'right', verticalAlign: 'middle' } })
})

var myChart = echarts.init(document.getElementById('main'), null, { renderer: 'canvas' })
myChart.setOption({
    backgroundColor: '#ffffff',
    animation: false,
    grid: grids,
    xAxis: xAxes,
    yAxis: yAxes,
    legend: legends,
    series: series,
    graphic: graphics
})
</script>
</body>
</html>
